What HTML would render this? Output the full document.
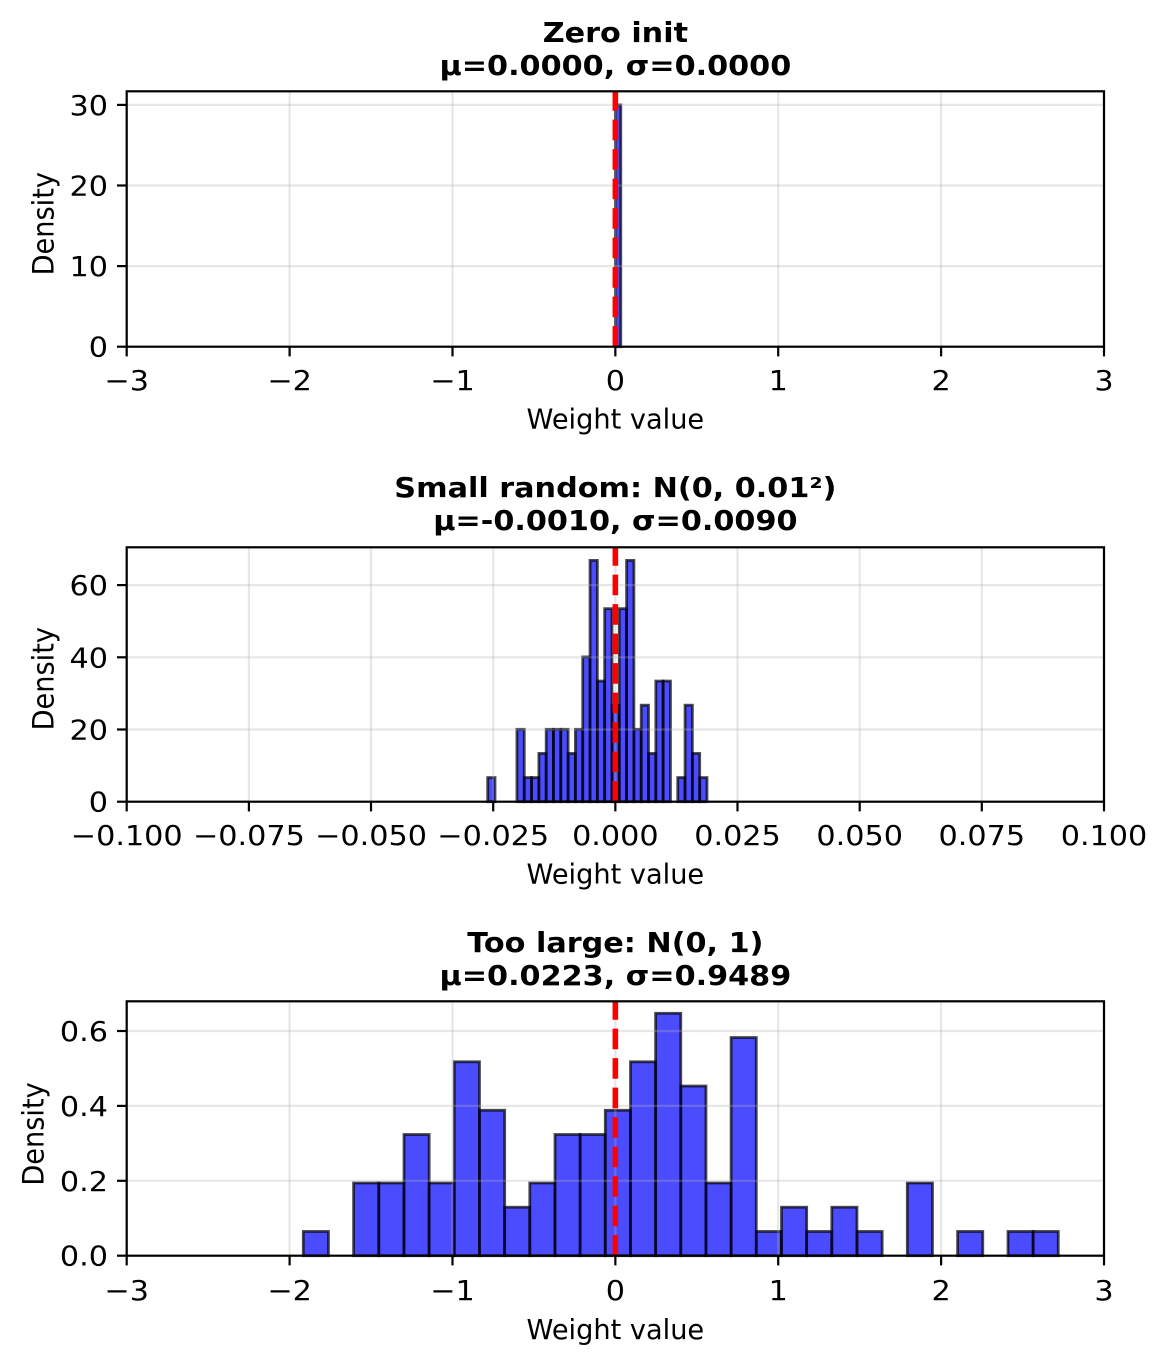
<!DOCTYPE html>
<html><head><meta charset="utf-8"><style>
html,body{margin:0;padding:0;background:#fff;}
svg{display:block;}
text{font-family:"DejaVu Sans","Liberation Sans",sans-serif;fill:#000;}
.t{font-size:27.5px;font-weight:bold;}
.k{font-size:27.5px;}
.l{font-size:27.2px;}
.g{stroke:#b0b0b0;stroke-opacity:0.3;stroke-width:2.2;fill:none;}
.b{fill:#0000ff;fill-opacity:0.7;stroke:#000;stroke-opacity:0.7;stroke-width:2.8;}
.s{stroke:#000;stroke-width:2.2;fill:none;}
.r{stroke:#ff0000;stroke-width:5.6;stroke-dasharray:20.6 8.9;fill:none;}
</style></head><body>
<svg width="1167" height="1364" viewBox="0 0 1167 1364" xmlns="http://www.w3.org/2000/svg">
<rect x="0" y="0" width="1167" height="1364" fill="#fff"/>

<!-- ========== PANEL 1 ========== -->
<rect class="b" x="615.35" y="104.9" width="5.43" height="241.8"/>
<g class="g">
<line x1="126.7" y1="91.3" x2="126.7" y2="346.7"/><line x1="289.6" y1="91.3" x2="289.6" y2="346.7"/><line x1="452.5" y1="91.3" x2="452.5" y2="346.7"/><line x1="615.35" y1="91.3" x2="615.35" y2="346.7"/><line x1="778.2" y1="91.3" x2="778.2" y2="346.7"/><line x1="941.1" y1="91.3" x2="941.1" y2="346.7"/><line x1="1104" y1="91.3" x2="1104" y2="346.7"/>
<line x1="126.7" y1="266.1" x2="1104" y2="266.1"/><line x1="126.7" y1="185.5" x2="1104" y2="185.5"/><line x1="126.7" y1="104.9" x2="1104" y2="104.9"/>
</g>
<line class="r" x1="615.35" y1="346.7" x2="615.35" y2="91.3"/>
<rect class="s" x="126.7" y="91.3" width="977.3" height="255.4"/>
<g class="s">
<line x1="126.7" y1="346.7" x2="126.7" y2="356.4"/><line x1="289.6" y1="346.7" x2="289.6" y2="356.4"/><line x1="452.5" y1="346.7" x2="452.5" y2="356.4"/><line x1="615.35" y1="346.7" x2="615.35" y2="356.4"/><line x1="778.2" y1="346.7" x2="778.2" y2="356.4"/><line x1="941.1" y1="346.7" x2="941.1" y2="356.4"/><line x1="1104" y1="346.7" x2="1104" y2="356.4"/>
<line x1="117" y1="346.7" x2="126.7" y2="346.7"/><line x1="117" y1="266.1" x2="126.7" y2="266.1"/><line x1="117" y1="185.5" x2="126.7" y2="185.5"/><line x1="117" y1="104.9" x2="126.7" y2="104.9"/>
</g>
<g class="k" text-anchor="middle">
<text transform="translate(126.7 390) scale(1.1 1)">−3</text>
<text transform="translate(289.6 390) scale(1.1 1)">−2</text>
<text transform="translate(452.5 390) scale(1.1 1)">−1</text>
<text transform="translate(615.35 390) scale(1.1 1)">0</text>
<text transform="translate(778.2 390) scale(1.1 1)">1</text>
<text transform="translate(941.1 390) scale(1.1 1)">2</text>
<text transform="translate(1104 390) scale(1.1 1)">3</text>
</g>
<g class="k" text-anchor="end">
<text transform="translate(108 356.7) scale(1.1 1)">0</text>
<text transform="translate(108 276.1) scale(1.1 1)">10</text>
<text transform="translate(108 195.5) scale(1.1 1)">20</text>
<text transform="translate(108 114.9) scale(1.1 1)">30</text>
</g>
<text class="l" text-anchor="middle" x="615.35" y="428.3">Weight value</text>
<text class="l" text-anchor="middle" transform="translate(53.3 223.7) scale(1.08 1) rotate(-90)">Density</text>
<g class="t" text-anchor="middle">
<text transform="translate(615.35 42.2) scale(1.1 1)">Zero init</text>
<text transform="translate(615.35 74.8) scale(1.1 1)">μ=0.0000, σ=0.0000</text>
</g>

<!-- ========== PANEL 2 ========== -->
<g class="b">
<rect x="487.7" y="777.57" width="7.31" height="24.13"/>
<rect x="516.94" y="729.31" width="7.31" height="72.39"/>
<rect x="524.25" y="777.57" width="7.31" height="24.13"/>
<rect x="531.56" y="777.57" width="7.31" height="24.13"/>
<rect x="538.87" y="753.44" width="7.31" height="48.26"/>
<rect x="546.18" y="729.31" width="7.31" height="72.39"/>
<rect x="553.49" y="729.31" width="7.31" height="72.39"/>
<rect x="560.8" y="729.31" width="7.31" height="72.39"/>
<rect x="568.11" y="753.44" width="7.31" height="48.26"/>
<rect x="575.42" y="729.31" width="7.31" height="72.39"/>
<rect x="582.73" y="656.92" width="7.31" height="144.78"/>
<rect x="590.04" y="560.4" width="7.31" height="241.3"/>
<rect x="597.35" y="681.05" width="7.31" height="120.65"/>
<rect x="604.66" y="608.66" width="7.31" height="193.04"/>
<rect x="611.97" y="705.18" width="7.31" height="96.52"/>
<rect x="619.28" y="608.66" width="7.31" height="193.04"/>
<rect x="626.59" y="560.4" width="7.31" height="241.3"/>
<rect x="633.9" y="729.31" width="7.31" height="72.39"/>
<rect x="641.21" y="705.18" width="7.31" height="96.52"/>
<rect x="648.52" y="753.44" width="7.31" height="48.26"/>
<rect x="655.83" y="681.05" width="7.31" height="120.65"/>
<rect x="663.14" y="681.05" width="7.31" height="120.65"/>
<rect x="677.76" y="777.57" width="7.31" height="24.13"/>
<rect x="685.07" y="705.18" width="7.31" height="96.52"/>
<rect x="692.38" y="753.44" width="7.31" height="48.26"/>
<rect x="699.69" y="777.57" width="7.31" height="24.13"/>
</g>
<g class="g">
<line x1="126.7" y1="547.3" x2="126.7" y2="801.7"/><line x1="248.9" y1="547.3" x2="248.9" y2="801.7"/><line x1="371" y1="547.3" x2="371" y2="801.7"/><line x1="493.2" y1="547.3" x2="493.2" y2="801.7"/><line x1="615.35" y1="547.3" x2="615.35" y2="801.7"/><line x1="737.5" y1="547.3" x2="737.5" y2="801.7"/><line x1="859.7" y1="547.3" x2="859.7" y2="801.7"/><line x1="981.8" y1="547.3" x2="981.8" y2="801.7"/><line x1="1104" y1="547.3" x2="1104" y2="801.7"/>
<line x1="126.7" y1="729.5" x2="1104" y2="729.5"/><line x1="126.7" y1="657.3" x2="1104" y2="657.3"/><line x1="126.7" y1="585.1" x2="1104" y2="585.1"/>
</g>
<line class="r" x1="615.35" y1="801.7" x2="615.35" y2="547.3"/>
<rect class="s" x="126.7" y="547.3" width="977.3" height="254.4"/>
<g class="s">
<line x1="126.7" y1="801.7" x2="126.7" y2="811.4"/><line x1="248.9" y1="801.7" x2="248.9" y2="811.4"/><line x1="371" y1="801.7" x2="371" y2="811.4"/><line x1="493.2" y1="801.7" x2="493.2" y2="811.4"/><line x1="615.35" y1="801.7" x2="615.35" y2="811.4"/><line x1="737.5" y1="801.7" x2="737.5" y2="811.4"/><line x1="859.7" y1="801.7" x2="859.7" y2="811.4"/><line x1="981.8" y1="801.7" x2="981.8" y2="811.4"/><line x1="1104" y1="801.7" x2="1104" y2="811.4"/>
<line x1="117" y1="801.7" x2="126.7" y2="801.7"/><line x1="117" y1="729.5" x2="126.7" y2="729.5"/><line x1="117" y1="657.3" x2="126.7" y2="657.3"/><line x1="117" y1="585.1" x2="126.7" y2="585.1"/>
</g>
<g class="k" text-anchor="middle">
<text transform="translate(126.7 845) scale(1.1 1)">−0.100</text>
<text transform="translate(248.9 845) scale(1.1 1)">−0.075</text>
<text transform="translate(371 845) scale(1.1 1)">−0.050</text>
<text transform="translate(493.2 845) scale(1.1 1)">−0.025</text>
<text transform="translate(615.35 845) scale(1.1 1)">0.000</text>
<text transform="translate(737.5 845) scale(1.1 1)">0.025</text>
<text transform="translate(859.7 845) scale(1.1 1)">0.050</text>
<text transform="translate(981.8 845) scale(1.1 1)">0.075</text>
<text transform="translate(1104 845) scale(1.1 1)">0.100</text>
</g>
<g class="k" text-anchor="end">
<text transform="translate(108 811.7) scale(1.1 1)">0</text>
<text transform="translate(108 739.5) scale(1.1 1)">20</text>
<text transform="translate(108 667.3) scale(1.1 1)">40</text>
<text transform="translate(108 595.1) scale(1.1 1)">60</text>
</g>
<text class="l" text-anchor="middle" x="615.35" y="883.7">Weight value</text>
<text class="l" text-anchor="middle" transform="translate(53.3 678.7) scale(1.08 1) rotate(-90)">Density</text>
<g class="t" text-anchor="middle">
<text transform="translate(615.35 497) scale(1.1 1)">Small random: N(0, 0.01²)</text>
<text transform="translate(615.35 530) scale(1.1 1)">μ=-0.0010, σ=0.0090</text>
</g>

<!-- ========== PANEL 3 ========== -->
<g class="b">
<rect x="303.3" y="1231.46" width="25.17" height="24.24"/>
<rect x="353.6" y="1182.98" width="25.17" height="72.72"/>
<rect x="378.8" y="1182.98" width="25.17" height="72.72"/>
<rect x="404.0" y="1134.5" width="25.17" height="121.2"/>
<rect x="429.1" y="1182.98" width="25.17" height="72.72"/>
<rect x="454.3" y="1061.78" width="25.17" height="193.92"/>
<rect x="479.5" y="1110.26" width="25.17" height="145.44"/>
<rect x="504.6" y="1207.22" width="25.17" height="48.48"/>
<rect x="529.8" y="1182.98" width="25.17" height="72.72"/>
<rect x="555.0" y="1134.5" width="25.17" height="121.2"/>
<rect x="580.1" y="1134.5" width="25.17" height="121.2"/>
<rect x="605.3" y="1110.26" width="25.17" height="145.44"/>
<rect x="630.5" y="1061.78" width="25.17" height="193.92"/>
<rect x="655.6" y="1013.3" width="25.17" height="242.4"/>
<rect x="680.8" y="1086.02" width="25.17" height="169.68"/>
<rect x="706.0" y="1182.98" width="25.17" height="72.72"/>
<rect x="731.1" y="1037.54" width="25.17" height="218.16"/>
<rect x="756.3" y="1231.46" width="25.17" height="24.24"/>
<rect x="781.5" y="1207.22" width="25.17" height="48.48"/>
<rect x="806.6" y="1231.46" width="25.17" height="24.24"/>
<rect x="831.8" y="1207.22" width="25.17" height="48.48"/>
<rect x="857.0" y="1231.46" width="25.17" height="24.24"/>
<rect x="907.3" y="1182.98" width="25.17" height="72.72"/>
<rect x="957.6" y="1231.46" width="25.17" height="24.24"/>
<rect x="1008.0" y="1231.46" width="25.17" height="24.24"/>
<rect x="1033.1" y="1231.46" width="25.17" height="24.24"/>
</g>
<g class="g">
<line x1="126.7" y1="1001.3" x2="126.7" y2="1255.7"/><line x1="289.6" y1="1001.3" x2="289.6" y2="1255.7"/><line x1="452.5" y1="1001.3" x2="452.5" y2="1255.7"/><line x1="615.35" y1="1001.3" x2="615.35" y2="1255.7"/><line x1="778.2" y1="1001.3" x2="778.2" y2="1255.7"/><line x1="941.1" y1="1001.3" x2="941.1" y2="1255.7"/><line x1="1104" y1="1001.3" x2="1104" y2="1255.7"/>
<line x1="126.7" y1="1180.8" x2="1104" y2="1180.8"/><line x1="126.7" y1="1105.9" x2="1104" y2="1105.9"/><line x1="126.7" y1="1031" x2="1104" y2="1031"/>
</g>
<line class="r" x1="615.35" y1="1255.7" x2="615.35" y2="1001.3"/>
<rect class="s" x="126.7" y="1001.3" width="977.3" height="254.4"/>
<g class="s">
<line x1="126.7" y1="1255.7" x2="126.7" y2="1265.4"/><line x1="289.6" y1="1255.7" x2="289.6" y2="1265.4"/><line x1="452.5" y1="1255.7" x2="452.5" y2="1265.4"/><line x1="615.35" y1="1255.7" x2="615.35" y2="1265.4"/><line x1="778.2" y1="1255.7" x2="778.2" y2="1265.4"/><line x1="941.1" y1="1255.7" x2="941.1" y2="1265.4"/><line x1="1104" y1="1255.7" x2="1104" y2="1265.4"/>
<line x1="117" y1="1255.7" x2="126.7" y2="1255.7"/><line x1="117" y1="1180.8" x2="126.7" y2="1180.8"/><line x1="117" y1="1105.9" x2="126.7" y2="1105.9"/><line x1="117" y1="1031" x2="126.7" y2="1031"/>
</g>
<g class="k" text-anchor="middle">
<text transform="translate(126.7 1300) scale(1.1 1)">−3</text>
<text transform="translate(289.6 1300) scale(1.1 1)">−2</text>
<text transform="translate(452.5 1300) scale(1.1 1)">−1</text>
<text transform="translate(615.35 1300) scale(1.1 1)">0</text>
<text transform="translate(778.2 1300) scale(1.1 1)">1</text>
<text transform="translate(941.1 1300) scale(1.1 1)">2</text>
<text transform="translate(1104 1300) scale(1.1 1)">3</text>
</g>
<g class="k" text-anchor="end">
<text transform="translate(108 1265.7) scale(1.1 1)">0.0</text>
<text transform="translate(108 1190.8) scale(1.1 1)">0.2</text>
<text transform="translate(108 1115.9) scale(1.1 1)">0.4</text>
<text transform="translate(108 1041) scale(1.1 1)">0.6</text>
</g>
<text class="l" text-anchor="middle" x="615.35" y="1339">Weight value</text>
<text class="l" text-anchor="middle" transform="translate(43.3 1134) scale(1.08 1) rotate(-90)">Density</text>
<g class="t" text-anchor="middle">
<text transform="translate(615.35 952) scale(1.1 1)">Too large: N(0, 1)</text>
<text transform="translate(615.35 985) scale(1.1 1)">μ=0.0223, σ=0.9489</text>
</g>
</svg>
</body></html>
